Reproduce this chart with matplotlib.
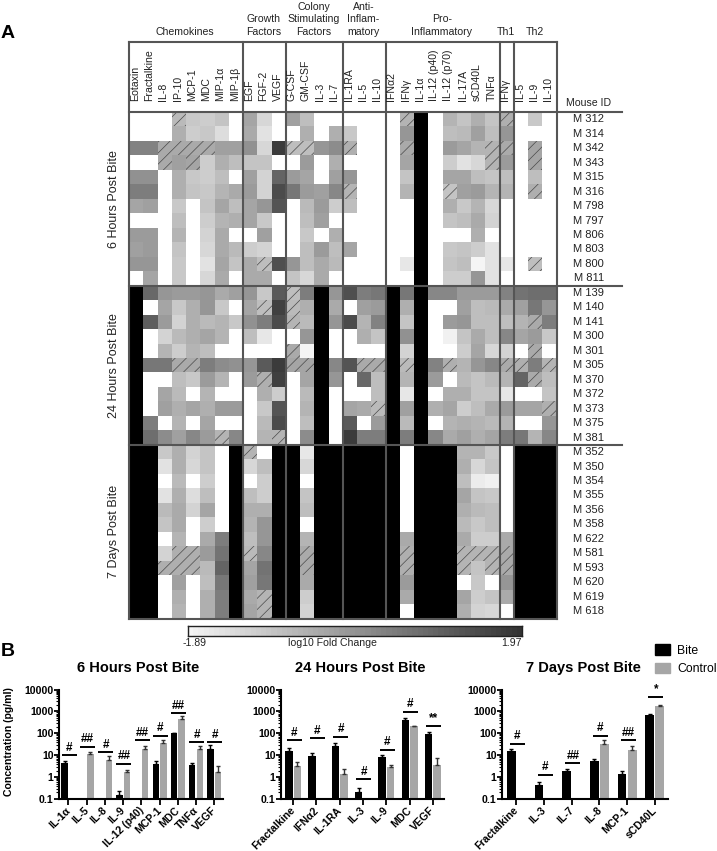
#!/usr/bin/env python3

import matplotlib
matplotlib.use('Agg')
import matplotlib.pyplot as plt
import numpy as np
from matplotlib.colors import LinearSegmentedColormap, Normalize
from matplotlib.patches import Patch, Rectangle
from matplotlib.ticker import LogLocator, NullFormatter
from matplotlib.transforms import ScaledTranslation

plt.rcParams['font.family'] = ['Liberation Sans', 'DejaVu Sans']
plt.rcParams['hatch.linewidth'] = 0.5

W_PX, H_PX = 717, 851
W = np.nan  # white cells, nothing measured
K = 9.0  # black cells, above the scale

COLUMNS = ['Eotaxin', 'Fractalkine', 'IL-8', 'IP-10', 'MCP-1', 'MDC', 'MIP-1α', 'MIP-1β',
           'EGF', 'FGF-2', 'VEGF',
           'G-CSF', 'GM-CSF', 'IL-3', 'IL-7',
           'IL-1RA', 'IL-5', 'IL-10',
           'IFNα2', 'IFNγ', 'IL-1α', 'IL-12 (p40)', 'IL-12 (p70)', 'IL-17A', 'sCD40L', 'TNFα',
           'IFNγ',
           'IL-5', 'IL-9', 'IL-10']
GROUP_TITLES = ['Chemokines', 'Growth\nFactors', 'Colony\nStimulating\nFactors', 'Anti-\nInflam-\nmatory',
                'Pro-\nInflammatory', 'Th1', 'Th2']
GROUP_SIZES = [8, 3, 4, 3, 8, 1, 3]

MICE_6H = ['M 312', 'M 314', 'M 342', 'M 343', 'M 315', 'M 316', 'M 798', 'M 797', 'M 806', 'M 803', 'M 800', 'M 811']
MICE_24H = ['M 139', 'M 140', 'M 141', 'M 300', 'M 301', 'M 305', 'M 370', 'M 372', 'M 373', 'M 375', 'M 381']
MICE_7D = ['M 352', 'M 350', 'M 354', 'M 355', 'M 356', 'M 358', 'M 622', 'M 581', 'M 593', 'M 620', 'M 619', 'M 618']

LOGFC_6H = [
    [W, W, W, -.7, -1.0, -1.1, -.9, W, -.3, -1.3, W, -.2, -.8, W, W, W, W, W, W, -.6, K, W, -.6, -.9, -.5, -.9, -.5, W, -1.0, W],
    [W, W, W, -.5, -1.1, -1.0, -1.4, W, -.4, -1.5, W, W, -.5, W, -.5, -1.0, W, W, W, 0, K, W, -.8, -.7, -.2, -.8, 0, W, W, W],
    [.4, .4, -.4, -.4, -.4, -.4, -.2, -.2, .1, -1.3, 1.8, -.8, -.8, 0, .2, -.5, W, W, W, -.4, K, W, -.1, -.3, -.6, -.6, -.4, W, -.3, W],
    [W, W, -.4, -.2, -.3, -1.1, -.5, -.8, -.9, -.9, W, W, -.1, W, -.5, W, W, W, W, -.3, K, W, -1.1, -1.5, -1.3, -.6, -.1, W, -.3, W],
    [.1, .1, W, -.5, -1.0, -1.1, -.8, W, -.2, -1.2, 1.0, -.1, -.3, W, -.2, 0, W, W, W, -.9, K, W, -.3, -.3, -.8, -.9, -.8, W, -.8, W],
    [.5, .5, W, -.5, -.9, -1.0, -.6, -.4, -.1, -1.2, 1.5, .6, -.1, -.2, .3, -.6, W, W, W, -.6, K, W, -.9, -.2, -.1, -.6, -.6, W, -.5, W],
    [-.3, -.2, W, -1.0, W, -.9, -.3, -.8, -.3, 0, 1.3, W, -.7, -.1, -1.1, -.8, W, W, W, W, K, W, -.5, -1.0, -.6, -1.3, W, W, W, W],
    [W, W, W, -.8, W, -1.1, -.6, -.5, -.3, -1.0, W, W, -.8, -.2, W, W, W, W, W, W, K, W, -.9, -.8, -.4, -1.2, W, W, W, W],
    [-.1, -.1, W, -.6, W, -1.2, -.4, W, W, -.2, W, W, -1.0, W, -.5, W, W, W, W, W, K, W, W, W, -.5, W, W, W, W, W],
    [-.2, -.1, W, -.9, W, -1.3, -.4, -.7, -1.1, -1.2, W, W, -.8, -.1, -.8, -.3, W, W, W, W, K, W, -1.0, -.9, -1.1, -1.5, W, W, W, W],
    [0, 0, W, -1.0, W, -1.5, -.3, -.9, -.4, -.8, 1.4, 0, -.8, -.4, -.7, W, W, W, W, -1.6, K, W, -.9, -.8, -1.89, -1.5, -1.6, W, -.8, W],
    [W, -.3, W, -1.0, W, -1.3, -.4, W, -.4, -.4, W, -.9, -1.3, -.4, W, W, W, W, W, W, K, W, -1.1, -1.1, 0, -1.5, W, W, W, W],
]
LOGFC_24H = [
    [K, .9, 0, -.1, -.1, 0, -.4, -.2, 0, -1.0, 1.2, -.8, .5, K, 0, 1.4, .5, .6, K, .6, K, .3, .3, -.1, -.1, -.1, .4, .7, .8, .8],
    [K, W, -.3, -1.0, -.5, 0, -1.0, W, -.3, -.8, 1.7, -.7, -.5, K, -.4, W, -.2, -.1, K, -.5, K, W, W, -.2, -.8, -.7, -.4, -.2, .6, 0],
    [K, 1.1, -.1, -1.2, -.5, -.7, -.6, -1.0, .1, .5, 1.5, -.6, -.7, K, 0, 1.5, -.6, .4, K, -.9, K, W, -.1, 0, -.8, -.8, -.8, -.6, -.4, .5],
    [K, W, -1.2, -.7, -.5, -.3, -.6, W, -.8, -1.6, W, W, 0, K, W, W, -.5, -.9, K, .1, K, W, -1.8, -.9, -.4, -.8, .3, -.3, -.1, -1.0],
    [K, W, -.6, -1.1, -.6, -.8, W, W, W, W, W, -.4, -1.89, K, W, W, W, W, K, -1.2, K, W, W, -1.1, -.3, -1.3, -1.2, W, -.4, W],
    [K, .6, .6, -.4, -.4, .5, .2, .1, 0, 1.2, 1.8, -.3, -.3, K, .3, 1.3, -.4, -.4, K, -.7, K, .4, -.5, -.6, 0, .3, -.4, -.5, .5, -.6],
    [K, W, W, -.8, -1.0, -.1, -.6, W, -.1, -.5, 1.7, W, -.3, K, 0, W, .9, -.8, K, -.6, K, -.1, W, -.7, -.9, -.7, -.6, 1.0, -.4, -.8],
    [K, W, -.3, -.7, W, -.6, W, W, W, -.5, -1.1, W, -.7, K, W, W, W, -.8, K, -1.6, K, W, -.5, -.5, -.9, -.9, -1.6, W, W, -.9],
    [K, W, -.2, -.5, -.3, -.5, -.1, -.1, W, -1.0, 1.3, W, -.6, K, W, -.3, -.4, -.7, K, -.2, K, -.5, -.3, -1.1, -.8, -.4, -.1, -.3, -.3, -.5],
    [K, .5, W, -.6, W, -.3, W, W, W, -.7, 1.5, W, -.8, K, W, 1.2, W, -.1, K, -.7, K, W, -.6, -.5, -.6, -.7, -.6, W, W, 0],
    [K, .8, .2, -.2, .3, -.1, -.6, .3, W, -.6, -.6, W, .2, K, W, 1.8, .5, .5, K, .5, K, .3, -.4, -.2, -.5, -.3, .5, .6, -.6, .3],
]
LOGFC_7D = [
    [K, K, -1.0, -.5, -1.2, -.9, W, K, -.6, W, K, K, -1.6, K, K, K, K, K, K, W, K, K, K, -.6, -.6, -1.0, W, K, K, K],
    [K, K, -1.5, -.5, -1.3, -.9, W, K, -1.3, -.8, K, K, -1.3, K, K, K, K, K, K, W, K, K, K, -.5, -1.3, -.9, W, K, K, K],
    [K, K, W, -.7, W, -1.1, W, K, W, -1.1, K, K, W, K, K, K, K, K, K, W, K, K, K, -.8, -1.7, -1.8, W, K, K, K],
    [K, K, -1.5, -.5, -1.4, -.8, W, K, -.8, -1.1, K, K, -.9, K, K, K, K, K, K, W, K, K, K, -.3, -.9, -1.0, W, K, K, K],
    [K, K, -.7, -.4, -1.2, -.3, W, K, -.5, -.5, K, K, -.8, K, K, K, K, K, K, W, K, K, K, -.5, -.7, -.8, W, K, K, K],
    [K, K, -.9, -.4, W, -1.1, W, K, -.6, 0, K, K, W, K, K, K, K, K, K, W, K, K, K, -.7, -1.0, -.8, W, K, K, K],
    [K, K, W, -.6, W, -.4, .5, K, -.8, 0, K, K, -.6, K, K, K, K, K, K, -.4, K, K, K, -.4, -1.1, -1.1, -.4, K, K, K],
    [K, K, -1.2, -.5, -.5, -.1, .7, K, -.7, .3, K, K, -.4, K, K, K, K, K, K, -.5, K, K, K, -.6, -.6, -.6, -.4, K, K, K],
    [K, K, -.5, -.5, -.5, -.7, 1.0, K, -.3, .7, K, K, -.4, K, K, K, K, K, K, -.5, K, K, K, -.6, -.9, -.6, -.4, K, K, K],
    [K, K, W, -.2, W, -.8, .6, K, -.2, .6, K, K, -.4, K, K, K, K, K, K, -.1, K, K, K, W, -1.0, W, 0, K, K, K],
    [K, K, W, -.5, W, -.5, .5, K, -.4, -.6, K, K, -1.1, K, K, K, K, K, K, -.4, K, K, K, -.3, -1.1, -.9, -.4, K, K, K],
    [K, K, W, -.6, W, -.5, .5, K, -.3, -.6, K, K, -1.2, K, K, K, K, K, K, W, K, K, K, -.5, -1.2, -1.3, W, K, K, K],
]

# hatched cells: mouse -> column numbers
HATCHED = {
    'M 312': [3, 19, 26],
    'M 342': [2, 3, 4, 5, 11, 12, 15, 19, 25, 26, 28],
    'M 343': [2, 4, 25, 28],
    'M 316': [15, 22, 28],
    'M 800': [9, 28],
    'M 139': [11],
    'M 140': [9, 11],
    'M 141': [11, 28],
    'M 301': [11, 28],
    'M 305': [3, 4, 11, 12, 16, 17, 19, 22, 26, 27, 29],
    'M 370': [9, 28],
    'M 373': [17, 29],
    'M 381': [6, 10],
    'M 352': [8],
    'M 581': [3, 4, 8, 12, 19, 23, 24, 25, 26],
    'M 593': [2, 3, 4, 12, 19, 23, 25, 26],
    'M 619': [9],
    'M 618': [9],
}

N = np.nan
TITLES = ['6 Hours Post Bite', '24 Hours Post Bite', '7 Days Post Bite']

CATS_6H = ['IL-1α', 'IL-5', 'IL-8', 'IL-9', 'IL-12 (p40)', 'MCP-1', 'MDC', 'TNFα', 'VEGF']
BITE_6H = [4.2, N, N, 0.14, N, 4, 105, 3.7, 20]
BITE_TOP_6H = [5.7, N, N, 0.22, N, 5.6, 105, 4.2, 28]
CTRL_6H = [N, 11, 6, 1.7, 19, 35, 460, 19, 1.7]
CTRL_TOP_6H = [N, 13.4, 8.8, 2.2, 27, 49, 590, 26, 3.1]
SIG_6H = ['#', '##', '#', '##', '##', '#', '##', '#', '#']
SIG_Y_6H = [9.8, 24, 14, 4.1, 47, 78, 830, 40, 40]

CATS_24H = ['Fractalkine', 'IFNα2', 'IL-1RA', 'IL-3', 'IL-9', 'MDC', 'VEGF']
BITE_24H = [16, 9.5, 27, 0.21, 7.9, 425, 94]
BITE_TOP_24H = [21, 12.7, 38, 0.31, 10.3, 510, 117]
CTRL_24H = [3.3, N, 1.4, N, 2.95, 215, 3.5]
CTRL_TOP_24H = [5, N, 2.3, N, 3.6, 225, 7.2]
SIG_24H = ['#', '#', '#', '#', '#', '#', '**']
SIG_Y_24H = [47, 58, 69, 0.78, 18, 980, 215]

CATS_7D = ['Fractalkine', 'IL-3', 'IL-7', 'IL-8', 'MCP-1', 'sCD40L']
BITE_7D = [15, 0.43, 1.84, 5.2, 1.35, 670]
BITE_TOP_7D = [20, 0.59, 2.3, 7, 1.9, 770]
CTRL_7D = [N, N, N, 31, 17, 1700]
CTRL_TOP_7D = [N, N, N, 48, 26, 2040]
SIG_7D = ['#', '#', '##', '#', '##', '*']
SIG_Y_7D = [33, 1.3, 4.2, 78, 47, 4700]

Y_TICKS = [0.1, 1, 10, 100, 1000, 10000]
Y_TICK_LABELS = ['0.1', '1', '10', '100', '1000', '10000']

LINE_GREY = '#555555'
CTRL_GREY = '#a6a6a6'


def px_axes(fig, x0, y0, x1, y1):
	# pixel box measured from the top left of the image
	return fig.add_axes([x0 / W_PX, 1 - y1 / H_PX, (x1 - x0) / W_PX, (y1 - y0) / H_PX])


def draw_heatmap(fig):
	ax = px_axes(fig, 129, 112, 556.5, 618.5)
	cmap = LinearSegmentedColormap.from_list('fold', ['#f5f5f5', '#333333'])
	cmap.set_bad('white')
	cmap.set_over('black')
	norm = Normalize(-1.89, 1.97)
	logfc = np.array(LOGFC_6H + LOGFC_24H + LOGFC_7D, dtype=float)
	mice = MICE_6H + MICE_24H + MICE_7D
	ax.pcolormesh(np.arange(31), np.arange(36), logfc, cmap=cmap, norm=norm)
	ax.set_xlim(0, 30)
	ax.set_ylim(35, 0)
	ax.axis('off')

	for mouse, cols in HATCHED.items():
		row = mice.index(mouse)
		for col in cols:
			ax.add_patch(Rectangle((col, row), 1, 1, fill=False, hatch='///', edgecolor='#4a4a4a', linewidth=0))

	head_top = -4.84
	edges = np.cumsum([0] + GROUP_SIZES)
	for left, right, title in zip(edges[:-1], edges[1:], GROUP_TITLES):
		ax.plot([left, left], [head_top, 35], color=LINE_GREY, lw=1.5, clip_on=False, solid_capstyle='projecting')
		ax.text((left + right) / 2 - 0.05, -5.2, title, ha='center', va='bottom', fontsize=7.6, color='#222222',
				linespacing=1.32, clip_on=False)
	ax.plot([30, 30], [head_top, 35], color=LINE_GREY, lw=1.5, clip_on=False, solid_capstyle='projecting')
	ax.plot([0, 30], [head_top, head_top], color=LINE_GREY, lw=1.5, clip_on=False)
	ax.plot([0, 30], [35, 35], color=LINE_GREY, lw=1.5, clip_on=False)

	for col, name in enumerate(COLUMNS):
		ax.text(col + 0.42, -0.75, name, rotation=90, ha='center', va='bottom', fontsize=7.6, color='#222222',
				clip_on=False)

	# lines across the table that run on under the mouse ids
	for row in [0, len(MICE_6H), len(MICE_6H) + len(MICE_24H)]:
		ax.plot([0, 34.6], [row, row], color=LINE_GREY, lw=1.5, clip_on=False)

	ax.text(32.25, -0.6, 'Mouse ID', ha='center', va='center', fontsize=7.6, color='#222222', clip_on=False)
	for row, mouse in enumerate(mice):
		ax.text(32.25, row + 0.5, mouse, ha='center', va='center', fontsize=8, color='#222222', clip_on=False)

	starts = [0, len(MICE_6H), len(MICE_6H) + len(MICE_24H), len(mice)]
	for top, bottom, title in zip(starts[:-1], starts[1:], TITLES):
		ax.text(-1.05, (top + bottom) / 2, title, rotation=90, ha='center', va='center', fontsize=9, color='#222222',
				clip_on=False)

	bar = px_axes(fig, 188, 625.5, 522, 636)
	ramp = np.linspace(-1.89, 1.97, 64)[np.newaxis, :]
	bar.imshow(ramp, cmap=cmap, norm=norm, aspect='auto')
	bar.set_xticks([])
	bar.set_yticks([])
	for spine in bar.spines.values():
		spine.set_linewidth(1)
		spine.set_color('#222222')


def draw_bars(fig, box, title, title_x, bar_px, gap_px, cats, bite, bite_top, ctrl, ctrl_top, sig, sig_y):
	ax = px_axes(fig, *box)
	x = np.arange(len(cats))
	bite = np.array(bite)
	ctrl = np.array(ctrl)
	px_per_group = (box[2] - box[0]) / len(cats)
	width = bar_px / px_per_group
	gap = gap_px / px_per_group
	up_bite = np.array(bite_top) - bite
	up_ctrl = np.array(ctrl_top) - ctrl
	err = dict(lw=1, capthick=1, capsize=1.6)

	ax.set_yscale('log')
	ax.bar(x + 0.52 - gap, bite, width, bottom=0.01, color='black',
		   yerr=[np.zeros(len(cats)), up_bite], ecolor='black', error_kw=err)
	ax.bar(x + 0.52 + gap, ctrl, width, bottom=0.01, color=CTRL_GREY,
		   yerr=[np.zeros(len(cats)), up_ctrl], ecolor='#333333', error_kw=err)

	half = 7.5 / px_per_group
	for i, (mark, y) in enumerate(zip(sig, sig_y)):
		ax.plot([i + 0.56 - half, i + 0.56 + half], [y, y], color='black', lw=1.4, solid_capstyle='butt', clip_on=False)
		ax.annotate(mark, (i + 0.56, y), xytext=(0, 1), textcoords='offset points', ha='center', va='bottom',
					fontsize=8.5, fontweight='bold', annotation_clip=False)

	ax.set_xlim(0, len(cats))
	ax.set_ylim(0.1, 10000)
	ax.set_yticks(Y_TICKS)
	ax.set_yticklabels(Y_TICK_LABELS, fontweight='bold', fontsize=7.6)
	ax.yaxis.set_minor_locator(LogLocator(base=10, subs=np.arange(2, 10), numticks=12))
	ax.yaxis.set_minor_formatter(NullFormatter())
	ax.set_xticks(x + 0.52)
	ax.set_xticklabels(cats, rotation=45, ha='right', rotation_mode='anchor', fontweight='bold', fontsize=7.6)
	ax.tick_params(axis='x', which='major', width=1.3, length=4, pad=2)
	ax.tick_params(axis='y', which='major', width=1.3, length=3.6, pad=0.3)
	ax.tick_params(axis='y', which='minor', width=0.8, length=2.4)
	# category labels sit a little left of and above their ticks
	shift = ScaledTranslation(-3 / 100, 2 / 100, fig.dpi_scale_trans)
	for label in ax.get_xticklabels():
		label.set_transform(label.get_transform() + shift)
	ax.spines['top'].set_visible(False)
	ax.spines['right'].set_visible(False)
	ax.spines['left'].set_linewidth(1.5)
	ax.spines['bottom'].set_linewidth(1.5)
	ax.patch.set_alpha(0)
	fig.text(title_x / W_PX, 1 - 668 / H_PX, title, ha='center', va='center', fontsize=10.5, fontweight='bold')
	return ax


def main():
	fig = plt.figure(figsize=(W_PX / 100, H_PX / 100), dpi=100)

	fig.text(1 / W_PX, 1 - 33 / H_PX, 'A', fontsize=14, fontweight='bold', va='center')
	fig.text(1 / W_PX, 1 - 651 / H_PX, 'B', fontsize=14, fontweight='bold', va='center')

	draw_heatmap(fig)
	fig.text(195 / W_PX, 1 - 643 / H_PX, '-1.89', ha='center', va='center', fontsize=7.6, color='#222222')
	fig.text(332 / W_PX, 1 - 643 / H_PX, 'log10 Fold Change', ha='center', va='center', fontsize=7.6, color='#222222')
	fig.text(522 / W_PX, 1 - 643 / H_PX, '1.97', ha='right', va='center', fontsize=7.6, color='#222222')

	draw_bars(fig, (59, 689.5, 223, 799), TITLES[0], 138, 6.4, 3.8, CATS_6H, BITE_6H, BITE_TOP_6H, CTRL_6H, CTRL_TOP_6H, SIG_6H, SIG_Y_6H)
	draw_bars(fig, (281, 689.5, 444, 799), TITLES[1], 360.5, 7.4, 4.3, CATS_24H, BITE_24H, BITE_TOP_24H, CTRL_24H, CTRL_TOP_24H, SIG_24H, SIG_Y_24H)
	draw_bars(fig, (502, 689.5, 668, 799), TITLES[2], 583, 8.7, 5.1, CATS_7D, BITE_7D, BITE_TOP_7D, CTRL_7D, CTRL_TOP_7D, SIG_7D, SIG_Y_7D)

	fig.text(9 / W_PX, 1 - 742 / H_PX, 'Concentration (pg/ml)', rotation=90, ha='center', va='center',
			 fontsize=7.6, fontweight='bold')

	handles = [Patch(color='black', label='Bite'), Patch(color=CTRL_GREY, label='Control')]
	fig.legend(handles=handles, loc='upper left', bbox_to_anchor=(653 / W_PX, 1 - 642 / H_PX), frameon=False,
			   fontsize=8.8, handlelength=1.22, handleheight=0.9, handletextpad=0.55, labelspacing=0.5, borderpad=0.2,
			   borderaxespad=0)

	fig.savefig('out.png', dpi=100)


if __name__ == '__main__':
	main()
